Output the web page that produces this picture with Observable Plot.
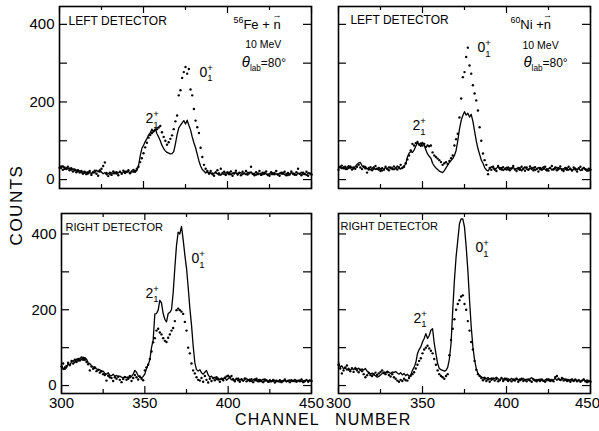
<!DOCTYPE html>
<html><head><meta charset="utf-8">
<script src="https://cdn.jsdelivr.net/npm/d3@7"></script>
<script src="https://cdn.jsdelivr.net/npm/@observablehq/plot@0.6"></script>
<style>
body{margin:0;background:#fff;}
#chart{position:relative;width:599px;height:431px;font-family:"Liberation Sans",Arial,sans-serif;color:#000;overflow:hidden;}
#chart svg{overflow:visible;}
.ylab{position:absolute;left:-33px;top:195px;width:100px;height:20px;line-height:20px;text-align:center;font-size:17px;letter-spacing:1.5px;transform:rotate(-90deg);}
.xlab{position:absolute;left:235px;top:411px;height:18px;line-height:18px;font-size:16px;letter-spacing:1.2px;word-spacing:10px;white-space:nowrap;}
</style></head><body>
<div id="chart"><div class="ylab">COUNTS</div><div class="xlab">CHANNEL NUMBER</div></div>
<script>
// channel numbers (x categories)
const channels = d3.range(300, 451);
const xMajor = [300, 350, 400, 450];
const xMinor = [325, 375, 425];
const yTicks = [0, 100, 200, 300, 400];
const yLabelTicks = [0, 200, 400];

// 56Fe, left detector
const feLeftLine = [34,28,36,26,31,27,30,24,28,22,
 25,20,23,17,21,16,19,14,18,15,
 21,17,24,20,26,19,15,18,12,16,
 13,18,15,20,14,17,21,16,19,22,
 18,21,17,22,19,24,22,35,60,80,
 88,98,105,115,120,130,122,131,118,110,
 100,88,80,74,70,68,66,67,72,92,
 116,133,140,146,152,143,153,140,128,110,
 95,82,65,48,35,26,22,17,21,13,
 18,12,16,20,14,18,11,16,13,18,
 15,19,12,17,14,19,11,16,18,13,
 17,12,19,15,20,13,16,11,18,14,
 17,12,19,15,10,16,13,18,12,15,
 11,17,14,19,12,16,10,15,18,13,
 16,11,17,14,19,13,16,11,18,15,12];
const feLeftDots = [30,34,25,31,27,33,24,29,21,26,
 19,24,18,22,15,20,14,19,22,12,
 18,23,15,10,21,28,35,44,17,9,
 18,12,21,16,19,11,20,15,23,17,
 20,24,16,21,25,20,28,33,45,55,
 68,83,95,108,115,120,125,128,130,134,
 138,122,110,100,90,96,105,114,130,150,
 165,217,230,262,277,290,273,285,232,217,
 182,152,135,120,82,58,38,28,22,17,
 22,16,10,18,24,13,28,17,20,12,
 19,14,21,10,17,23,15,18,11,20,
 16,22,13,18,33,15,11,19,14,22,
 12,18,15,21,13,10,19,14,17,22,
 14,10,18,15,20,11,17,13,21,16,
 12,19,28,15,11,18,14,20,10,16,13];

// 60Ni, left detector
const niLeftLine = [30,35,28,33,26,31,36,29,32,27,
 34,39,43,44,36,31,34,27,31,25,
 29,33,26,30,24,29,22,27,31,26,
 33,28,31,25,30,35,29,27,31,35,
 40,58,68,72,70,76,86,95,91,85,
 96,90,76,66,60,55,42,35,30,26,
 22,20,18,23,30,37,44,49,54,62,
 75,100,130,152,165,175,166,171,161,168,
 150,125,100,80,65,50,42,31,25,22,
 28,33,30,24,29,34,26,31,23,28,
 32,25,30,27,33,24,29,26,31,22,
 28,33,27,24,30,26,32,23,28,31,
 25,29,33,26,22,28,31,24,29,27,
 32,25,30,23,28,26,31,24,29,22,
 27,30,25,29,23,28,31,24,27,22,26];
const niLeftDots = [25,31,36,29,33,27,30,34,26,31,
 28,33,38,31,27,34,29,18,26,32,
 24,28,35,27,30,22,29,25,33,28,
 24,31,27,34,29,26,32,38,30,33,
 42,52,62,75,92,88,94,97,90,93,
 88,92,84,88,86,88,70,62,58,54,
 50,45,38,42,45,40,48,55,62,88,
 104,118,160,209,264,277,316,340,294,273,
 243,222,204,178,135,100,67,50,38,14,
 30,25,33,28,22,35,30,26,32,27,
 26,31,24,29,35,27,22,30,25,33,
 28,23,31,26,34,29,24,32,27,21,
 30,25,28,33,27,23,30,35,26,31,
 24,29,34,27,22,30,25,33,28,24,
 31,26,21,29,33,25,30,27,23,28,25];

// 56Fe, right detector
const feRightLine = [55,42,50,46,58,52,62,66,60,70,
 64,72,68,75,66,70,60,58,52,48,
 50,44,40,42,36,38,32,30,34,27,
 26,30,24,27,22,25,22,20,24,21,
 23,20,24,30,40,35,26,22,20,24,
 30,45,55,68,100,120,189,190,199,225,
 218,190,175,168,190,193,200,245,310,370,
 405,400,420,385,345,310,260,205,160,105,
 60,42,38,42,34,30,35,40,28,22,
 25,18,22,16,20,15,19,17,22,14,
 18,21,15,19,13,17,20,14,18,12,
 16,19,13,17,11,15,18,12,16,10,
 14,17,11,15,12,9,13,11,14,10,
 12,9,13,11,14,10,12,15,11,13,
 10,14,12,15,11,13,10,14,12,15,11];
const feRightDots = [50,58,44,52,60,55,65,58,68,62,
 70,66,74,68,72,62,56,40,50,44,
 46,38,42,34,38,30,28,13,26,22,
 20,12,22,18,24,15,9,17,22,15,
 18,25,12,20,28,22,16,24,18,14,
 40,48,55,70,90,114,125,145,150,140,
 135,125,118,115,126,135,145,152,170,199,
 203,199,195,189,168,145,100,85,58,40,
 32,22,15,13,20,10,25,15,8,18,
 12,20,14,22,16,10,18,14,20,24,
 26,22,25,15,11,18,14,10,16,13,
 19,11,15,12,17,9,14,18,11,15,
 12,9,16,13,10,14,11,15,8,13,
 11,14,9,12,16,11,13,9,14,12,
 15,10,13,11,16,9,12,15,10,13,12];

// 60Ni, right detector
const niRightLine = [62,48,52,44,47,41,46,40,45,42,
 48,43,46,40,44,41,45,38,35,30,
 33,28,26,22,24,28,32,36,34,38,
 35,32,36,34,37,33,30,34,28,32,
 26,30,24,28,40,48,60,84,95,102,
 115,124,137,124,132,146,150,111,84,58,
 45,42,40,38,40,48,70,111,199,278,
 340,383,427,440,440,418,366,304,225,155,
 102,67,45,32,26,23,20,22,18,21,
 17,20,16,19,22,18,15,19,16,20,
 14,18,15,19,13,17,20,14,18,15,
 19,13,17,14,18,21,15,12,16,13,
 17,14,11,15,18,13,16,12,15,19,
 14,17,13,16,19,14,17,12,15,18,
 13,16,12,15,11,14,17,12,15,10,13];
const niRightDots = [55,45,32,40,48,53,42,38,46,36,
 44,40,35,42,38,30,22,27,33,28,
 25,30,34,28,32,36,40,33,30,35,
 28,24,30,22,18,13,10,15,12,18,
 14,13,20,26,30,35,45,55,65,72,
 85,95,100,105,98,92,85,70,55,40,
 30,25,22,18,25,30,80,120,150,175,
 200,215,225,235,238,215,200,170,145,115,
 95,65,42,30,25,20,14,18,12,16,
 10,15,19,13,17,11,14,20,12,16,
 18,12,15,11,16,13,17,10,14,18,
 12,15,11,16,13,10,17,14,11,15,
 12,16,13,10,14,17,12,15,11,22,
 25,18,15,20,13,16,12,15,10,14,
 12,16,11,14,10,13,16,11,9,12,10];

// text labels
const detectorTitles = ["LEFT DETECTOR", "RIGHT DETECTOR"];
const reactions = ["^{56}Fe + ~{n}", "^{60}Ni +~{n}"];
const energyLabel = "10 MeV";
const angleLabel = "*{θ}_{lab}=80°";
const stateLabels = ["2_{1}^{+}", "0_{1}^{+}"];

const FONT = "Liberation Sans, Arial, sans-serif";
const SVGNS = "http://www.w3.org/2000/svg";

// turn ^{sup}, _{sub}, ~{vector}, *{big italic} markup into tspans
function richify(svg) {
  svg.querySelectorAll("text").forEach(t => {
    const s = t.textContent;
    if (!/[\^_~*]\{/.test(s)) return;
    const fs = parseFloat(getComputedStyle(t).fontSize) || 12;
    t.textContent = "";
    const re = /([\^_~*])\{([^}]*)\}|([^\^_~*]+)/g;
    let m, shift = 0, prev = null, prevKind = null;
    while ((m = re.exec(s))) {
      const kind = m[3] !== undefined ? "t" : m[1];
      const content = kind === "t" ? m[3] : m[2];
      if (kind === "~") {
        const base = document.createElementNS(SVGNS, "tspan");
        base.textContent = content;
        base.setAttribute("dy", -shift); shift = 0;
        t.appendChild(base);
        const arrow = document.createElementNS(SVGNS, "tspan");
        arrow.textContent = "\u2192";
        arrow.setAttribute("font-size", fs * 0.7);
        t.appendChild(arrow);
        const bw = base.getComputedTextLength(), aw = arrow.getComputedTextLength();
        arrow.setAttribute("dx", -(bw + aw) / 2);
        const up = -0.82 * fs;
        arrow.setAttribute("dy", up); shift = up;
        prev = arrow; prevKind = "~";
        continue;
      }
      const ts = document.createElementNS(SVGNS, "tspan");
      ts.textContent = content;
      let target = 0;
      if (kind === "^") { ts.setAttribute("font-size", fs * 0.68); target = -0.42 * fs; }
      if (kind === "_") { ts.setAttribute("font-size", fs * 0.68); target = 0.32 * fs; }
      if (kind === "*") { ts.setAttribute("font-size", fs * 1.25); ts.setAttribute("font-style", "italic"); }
      ts.setAttribute("dy", target - shift); shift = target;
      t.appendChild(ts);
      if (kind === "^" && prevKind === "_") ts.setAttribute("dx", -prev.getComputedTextLength());
      prev = ts; prevKind = kind;
    }
  });
}

const panels = [
  {left: 0, top: 0, width: 314, height: 191, ml: 59, mt: 6, mr: 3, mb: 3, yDomain: [-23, 446],
   line: feLeftLine, dots: feLeftDots, yLab: true, xLab: false, title: detectorTitles[0], titleSize: 12,
   titlePos: [305.4, 407], reaction: reactions[0], reactionPos: [403.6, 400],
   energyPos: [410.5, 347], anglePos: [408.5, 299], s2Pos: [351.2, 157], s0Pos: [383.3, 276]},
  {left: 318, top: 0, width: 277, height: 191, ml: 20, mt: 6, mr: 5, mb: 3, yDomain: [-23, 446],
   line: niLeftLine, dots: niLeftDots, yLab: false, xLab: false, title: detectorTitles[0], titleSize: 12,
   titlePos: [307.1, 410], reaction: reactions[1], reactionPos: [402.4, 400],
   energyPos: [409.5, 345], anglePos: [410.1, 299], s2Pos: [344, 139], s0Pos: [382.7, 340]},
  {left: 0, top: 200, width: 314, height: 215, ml: 61, mt: 13, mr: 3, mb: 22, yDomain: [-21, 454],
   line: feRightLine, dots: feRightDots, yLab: true, xLab: true, title: detectorTitles[1], titleSize: 11,
   titlePos: [302.4, 417], s2Pos: [350.4, 243], s0Pos: [378, 335], lastDx: 0},
  {left: 318, top: 200, width: 277, height: 215, ml: 20, mt: 13, mr: 5, mb: 22, yDomain: [-21, 454],
   line: niRightLine, dots: niRightDots, yLab: false, xLab: true, title: detectorTitles[1], titleSize: 11,
   titlePos: [301.2, 420], s2Pos: [344.6, 177], s0Pos: [381.5, 364], lastDx: -3}
];

const chart = document.getElementById("chart");
for (const p of panels) {
  const iw = p.width - p.ml - p.mr, ih = p.height - p.mt - p.mb;
  const lineRows = channels.map((ch, i) => ({ch, c: p.line[i]}));
  const dotRows = channels.map((ch, i) => ({ch, c: p.dots[i]}));
  const marks = [
    Plot.tickY(yTicks, {y: d => d, insetRight: iw - 8, strokeWidth: 1.2}),
    Plot.tickY(yTicks, {y: d => d, insetLeft: iw - 8, strokeWidth: 1.2}),
    Plot.tickX(xMajor, {x: d => d, insetTop: ih - 7, strokeWidth: 1.2}),
    Plot.tickX(xMinor, {x: d => d, insetTop: ih - 4, strokeWidth: 1.2}),
    Plot.tickX(xMajor, {x: d => d, insetBottom: ih - 7, strokeWidth: 1.2}),
    Plot.tickX(xMinor, {x: d => d, insetBottom: ih - 4, strokeWidth: 1.2}),
    Plot.line(lineRows, {x: "ch", y: "c", stroke: "black", strokeWidth: 1.3}),
    Plot.dot(dotRows, {x: "ch", y: "c", r: 1.2, fill: "black"}),
    Plot.frame({stroke: "black", strokeWidth: 1.6}),
    Plot.text([p.title], {x: p.titlePos[0], y: p.titlePos[1], text: d => d, textAnchor: "start", fontSize: p.titleSize}),
    Plot.text([stateLabels[0]], {x: p.s2Pos[0], y: p.s2Pos[1], text: d => d, textAnchor: "start", fontSize: 14}),
    Plot.text([stateLabels[1]], {x: p.s0Pos[0], y: p.s0Pos[1], text: d => d, textAnchor: "start", fontSize: 14})
  ];
  if (p.reaction) {
    marks.push(
      Plot.text([p.reaction], {x: p.reactionPos[0], y: p.reactionPos[1], text: d => d, textAnchor: "start", fontSize: 13}),
      Plot.text([energyLabel], {x: p.energyPos[0], y: p.energyPos[1], text: d => d, textAnchor: "start", fontSize: 10.5}),
      Plot.text([angleLabel], {x: p.anglePos[0], y: p.anglePos[1], text: d => d, textAnchor: "start", fontSize: 12})
    );
  }
  if (p.yLab) marks.push(Plot.axisY({ticks: yLabelTicks, anchor: "left", tickSize: 0, tickPadding: 5, label: null, fontSize: 15}));
  if (p.xLab) {
    marks.push(Plot.axisX({ticks: xMajor.slice(0, -1), anchor: "bottom", tickSize: 0, tickPadding: 4, label: null, fontSize: 15}));
    marks.push(Plot.axisX({ticks: xMajor.slice(-1), anchor: "bottom", tickSize: 0, tickPadding: 4, label: null, fontSize: 15, dx: p.lastDx}));
  }
  const svg = Plot.plot({
    width: p.width, height: p.height,
    marginLeft: p.ml, marginTop: p.mt, marginRight: p.mr, marginBottom: p.mb,
    x: {domain: [300, 450], ...(p.xLab ? {} : {axis: null})},
    y: {domain: p.yDomain, ...(p.yLab ? {} : {axis: null})},
    style: {fontFamily: FONT, fontSize: "15px", color: "black", background: "transparent",
            position: "absolute", left: p.left + "px", top: p.top + "px", overflow: "visible"},
    marks
  });
  chart.appendChild(svg);
  richify(svg);
}
</script>
</body></html>
